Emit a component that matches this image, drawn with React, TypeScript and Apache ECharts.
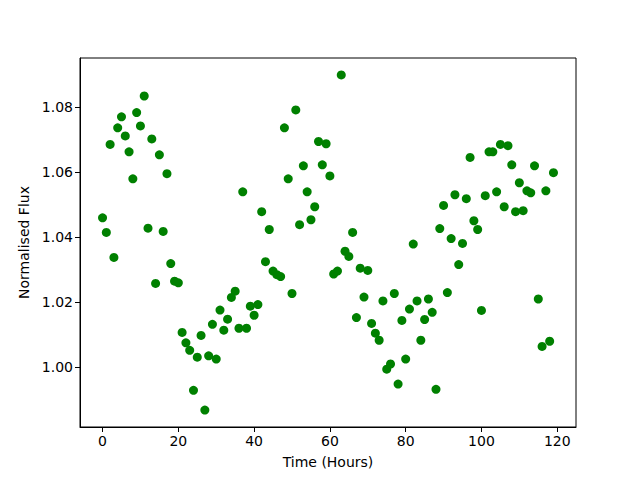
import React, { useEffect, useRef } from "react";
import * as echarts from "echarts";

const hours: number[] = Array.from({ length: 120 }, (_, i) => i);
const flux: number[] = [
  1.0460, 1.0415, 1.0686, 1.0338, 1.0737, 1.0771, 1.0712, 1.0663, 1.0580, 1.0784,
  1.0743, 1.0835, 1.0428, 1.0703, 1.0258, 1.0654, 1.0418, 1.0596, 1.0319, 1.0265,
  1.0260, 1.0107, 1.0075, 1.0052, 0.9929, 1.0031, 1.0098, 0.9868, 1.0035, 1.0132,
  1.0025, 1.0176, 1.0114, 1.0148, 1.0215, 1.0234, 1.0120, 1.0540, 1.0120, 1.0188,
  1.0160, 1.0193, 1.0479, 1.0325, 1.0424, 1.0296, 1.0285, 1.0279, 1.0737, 1.0580,
  1.0227, 1.0792, 1.0439, 1.0620, 1.0540, 1.0454, 1.0494, 1.0695, 1.0623, 1.0688,
  1.0589, 1.0287, 1.0296, 1.0900, 1.0357, 1.0341, 1.0415, 1.0153, 1.0305, 1.0216,
  1.0298, 1.0135, 1.0105, 1.0083, 1.0204, 0.9994, 1.0010, 1.0227, 0.9948, 1.0144,
  1.0025, 1.0179, 1.0379, 1.0204, 1.0083, 1.0147, 1.0210, 1.0169, 0.9932, 1.0427,
  1.0498, 1.0230, 1.0396, 1.0531, 1.0316, 1.0381, 1.0519, 1.0646, 1.0451, 1.0424,
  1.0175, 1.0528, 1.0663, 1.0663, 1.0540, 1.0686, 1.0494, 1.0682, 1.0623, 1.0479,
  1.0568, 1.0482, 1.0543, 1.0537, 1.0620, 1.0210, 1.0064, 1.0543, 1.0080, 1.0599,
];
const xTicks: number[] = [0, 20, 40, 60, 80, 100, 120];
const yTicks: number[] = [1.0, 1.02, 1.04, 1.06, 1.08];

export default function App() {
  const ref = useRef<HTMLDivElement>(null);
  useEffect(() => {
    if (!ref.current) return;
    const chart = echarts.init(ref.current, null, { renderer: "svg" });
    const font = "DejaVu Sans";
    chart.setOption({
      animation: false,
      backgroundColor: "#ffffff",
      textStyle: { fontFamily: font },
      grid: {
        left: 80,
        right: 64,
        top: 58,
        bottom: 53,
        show: true,
        borderColor: "#000000",
        borderWidth: 1,
        backgroundColor: "transparent",
      },
      xAxis: {
        type: "value",
        min: -5.95,
        max: 124.95,
        name: "Time (Hours)",
        nameLocation: "middle",
        nameGap: 28,
        nameTextStyle: { fontFamily: font, fontSize: 14, color: "#000" },
        axisLine: { show: true, onZero: false, lineStyle: { color: "#000", width: 1 } },
        axisTick: {
          show: true,
          length: 5,
          inside: false,
          lineStyle: { color: "#000" },
          customValues: xTicks,
        },
        axisLabel: {
          show: true,
          margin: 7,
          fontFamily: font,
          fontSize: 14,
          color: "#000",
          customValues: xTicks,
          formatter: (v: number) => String(Math.round(v)),
        },
        splitLine: { show: false },
      },
      yAxis: {
        type: "value",
        min: 0.9816,
        max: 1.0952,
        name: "Normalised Flux",
        nameLocation: "middle",
        nameGap: 45,
        nameRotate: 90,
        nameTextStyle: { fontFamily: font, fontSize: 14, color: "#000" },
        axisLine: { show: true, onZero: false, lineStyle: { color: "#000", width: 1 } },
        axisTick: {
          show: true,
          length: 5,
          inside: false,
          lineStyle: { color: "#000" },
          customValues: yTicks,
        },
        axisLabel: {
          show: true,
          margin: 7,
          fontFamily: font,
          fontSize: 14,
          color: "#000",
          customValues: yTicks,
          formatter: (v: number) => v.toFixed(2),
        },
        splitLine: { show: false },
      },
      series: [
        {
          type: "scatter",
          data: hours.map((h, i) => [h, flux[i]]),
          symbol: "circle",
          symbolSize: 9,
          itemStyle: { color: "#008000", opacity: 1 },
        },
      ],
    });
    return () => chart.dispose();
  }, []);
  return (
    <div
      ref={ref}
      style={{ width: 640, height: 480, position: "absolute", left: 0, top: 0 }}
    />
  );
}
